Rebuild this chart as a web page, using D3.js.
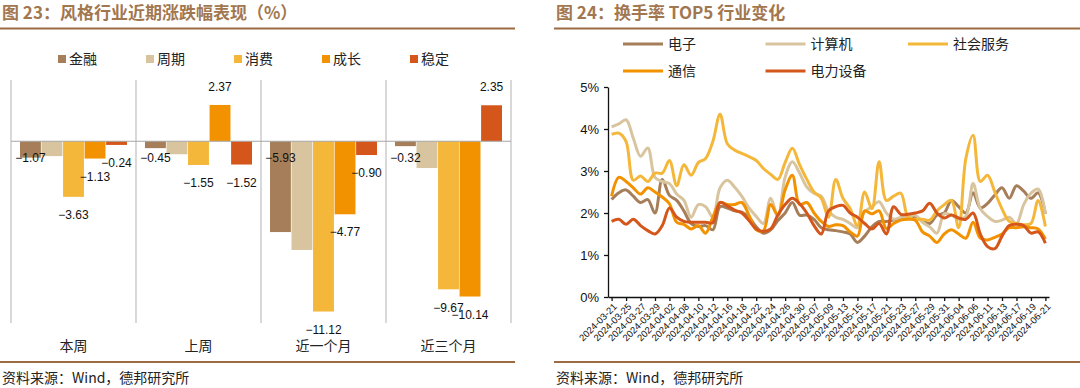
<!DOCTYPE html>
<html>
<head>
<meta charset="utf-8">
<script src="https://cdnjs.cloudflare.com/ajax/libs/d3/7.8.5/d3.min.js"></script>
<style>
  body { margin: 0; background: #fff; }
  text { font-family: "Noto Sans CJK SC", "Liberation Sans", sans-serif; }
  .num { font-family: "Liberation Sans", Arial, sans-serif; }
</style>
</head>
<body>
<div id="chart"></div>
<script>
// ---- left chart: style returns (%)
var periods = ["本周", "上周", "近一个月", "近三个月"];
var styles = ["金融", "周期", "消费", "成长", "稳定"];
var finance = [-1.07, -0.45, -5.93, -0.32];
var cyclical = [-0.97, -0.85, -7.10, -1.75];
var consumer = [-3.63, -1.55, -11.12, -9.67];
var growth = [-1.13, 2.37, -4.77, -10.14];
var stable = [-0.24, -1.52, -0.90, 2.35];
var styleValues = [finance, cyclical, consumer, growth, stable];
var showLabel = [true, false, true, true, true];

// ---- right chart: turnover top5 (%)
var dates = ["2024-03-21","2024-03-22","2024-03-25","2024-03-26","2024-03-27","2024-03-28","2024-03-29",
  "2024-04-01","2024-04-02","2024-04-03","2024-04-08","2024-04-09","2024-04-10","2024-04-11","2024-04-12",
  "2024-04-15","2024-04-16","2024-04-17","2024-04-18","2024-04-19","2024-04-22","2024-04-23","2024-04-24",
  "2024-04-25","2024-04-26","2024-04-29","2024-04-30","2024-05-06","2024-05-07","2024-05-08","2024-05-09",
  "2024-05-10","2024-05-13","2024-05-14","2024-05-15","2024-05-16","2024-05-17","2024-05-20","2024-05-21",
  "2024-05-22","2024-05-23","2024-05-24","2024-05-27","2024-05-28","2024-05-29","2024-05-30","2024-05-31",
  "2024-06-03","2024-06-04","2024-06-05","2024-06-06","2024-06-07","2024-06-11","2024-06-12","2024-06-13",
  "2024-06-14","2024-06-17","2024-06-18","2024-06-19","2024-06-20","2024-06-21"];
var industries = ["电子", "计算机", "社会服务", "通信", "电力设备"];
var electronics = [2.32,2.48,2.55,2.40,2.25,2.32,2.00,2.80,2.42,2.30,
  2.05,1.75,1.68,1.70,1.60,2.15,2.12,2.05,2.02,1.90,
  1.67,1.52,1.60,1.82,2.00,2.25,1.95,1.95,1.85,1.65,
  1.60,1.58,1.55,1.50,1.30,1.45,1.67,1.80,1.80,1.83,
  1.87,1.95,1.90,1.82,1.75,1.95,2.00,2.30,2.15,2.00,
  2.48,2.12,2.23,2.43,2.60,2.35,2.65,2.52,2.35,2.48,1.98];
var computer = [4.05,4.12,4.22,3.78,3.35,3.55,2.85,2.75,2.70,2.45,
  2.30,1.90,2.20,2.15,1.90,2.60,2.78,2.62,2.40,2.12,
  1.92,1.75,2.35,1.92,2.85,3.22,2.95,2.62,2.47,2.40,
  2.05,1.90,1.85,1.75,1.65,2.03,2.15,2.27,2.00,1.85,
  1.90,1.92,1.95,1.78,1.67,1.52,1.98,1.95,1.85,1.92,
  2.70,2.10,1.92,1.80,1.83,1.90,1.75,2.20,2.47,2.57,1.98];
var socialServices = [3.87,3.90,3.70,2.78,2.88,2.75,2.95,2.95,3.25,2.65,
  3.15,2.90,3.20,3.30,3.70,4.35,3.65,3.50,3.42,3.34,
  3.25,3.06,2.92,2.80,3.20,3.54,3.15,2.80,2.50,2.35,
  1.90,2.80,2.35,2.10,1.70,2.50,2.10,3.22,2.30,2.40,
  2.47,1.90,1.85,1.85,1.83,2.05,2.20,2.30,1.65,3.30,
  3.85,2.75,2.90,2.50,2.10,1.80,1.75,1.72,1.75,2.30,1.68];
var telecom = [2.40,2.85,2.75,2.60,2.45,2.60,2.50,2.38,2.22,1.78,
  1.73,1.62,1.70,1.52,1.90,2.25,2.20,2.20,2.25,1.95,
  1.60,1.58,2.20,1.95,2.55,2.90,2.20,2.25,2.00,1.80,
  1.68,1.72,1.70,1.55,1.45,2.05,1.98,2.05,1.63,1.75,
  1.83,1.85,1.83,1.55,1.45,1.30,1.50,1.60,1.50,1.40,
  1.78,1.40,1.36,1.42,1.50,1.65,1.65,1.67,1.65,1.62,1.38];
var powerEquip = [1.80,1.85,1.73,1.85,1.70,1.58,1.50,1.70,2.12,1.90,
  1.80,1.78,1.78,1.78,1.77,2.25,2.17,2.07,2.00,1.82,
  1.62,1.56,1.62,1.95,2.20,2.35,2.22,2.00,1.70,1.50,
  2.05,2.15,2.18,2.00,1.90,1.75,1.62,1.75,1.50,2.15,
  1.97,1.97,2.00,2.05,2.23,2.00,1.88,1.95,1.88,1.85,
  2.00,1.50,1.20,1.15,1.45,1.70,1.73,1.70,1.52,1.55,1.28];
var industryValues = [electronics, computer, socialServices, telecom, powerEquip];
var yTicks = [0, 1, 2, 3, 4, 5];

var palette = ["#A67F5A", "#D8C59F", "#F4B73A", "#F39200", "#D4561B"];
var brown = "#9C6B42";
var titleColor = "#A27750";

var svg = d3.select("#chart").append("svg")
  .attr("width", 1080).attr("height", 388);

// frames: titles, rules, sources
function frame(x0, x1, title) {
  svg.append("text").attr("x", x0 + 2).attr("y", 19)
    .attr("font-size", 17).attr("font-weight", "bold")
    .attr("fill", titleColor).text(title);
  svg.append("line").attr("x1", x0).attr("x2", x1).attr("y1", 28.5).attr("y2", 28.5)
    .attr("stroke", brown).attr("stroke-width", 2.2);
  svg.append("line").attr("x1", x0).attr("x2", x1).attr("y1", 362).attr("y2", 362)
    .attr("stroke", brown).attr("stroke-width", 2.2);
  svg.append("text").attr("x", x0 + 2).attr("y", 383)
    .attr("font-size", 14).attr("fill", "#222")
    .text("资料来源：Wind，德邦研究所");
}
frame(0, 515, "图 23：风格行业近期涨跌幅表现（%）");
frame(554, 1080, "图 24：换手率 TOP5 行业变化");

// ---- left bar chart
var x0 = d3.scaleBand().domain(periods).range([11, 511]);
var x1 = d3.scaleBand().domain(styles).range([9, 116]).paddingInner(0.03);
var y = d3.scaleLinear().domain([-12, 4]).range([325, 80]);

var left = svg.append("g");
// category separators
x0.domain().concat(["end"]).forEach(function (p, i) {
  var xx = i < periods.length ? x0(p) : x0.range()[1];
  left.append("line").attr("x1", xx).attr("x2", xx).attr("y1", 80).attr("y2", 323)
    .attr("stroke", "#BFBFBF").attr("stroke-width", 1.2);
});

styles.forEach(function (s, si) {
  left.selectAll(".bar" + si)
    .data(styleValues[si])
    .enter().append("rect")
      .attr("x", function (d, i) { return x0(periods[i]) + x1(s); })
      .attr("y", function (d) { return Math.min(y(d), y(0)); })
      .attr("width", x1.bandwidth())
      .attr("height", function (d) { return Math.abs(y(d) - y(0)); })
      .attr("fill", palette[si]);
});

left.append("line").attr("x1", 11).attr("x2", 511).attr("y1", y(0)).attr("y2", y(0))
  .attr("stroke", "#A6A6A6").attr("stroke-width", 1.2);

var fmt = d3.format(".2f");
styles.forEach(function (s, si) {
  if (!showLabel[si]) return;
  left.selectAll(".lab" + si)
    .data(styleValues[si])
    .enter().append("text")
      .attr("class", "num")
      .attr("x", function (d, i) { return x0(periods[i]) + x1(s) + x1.bandwidth() / 2; })
      .attr("y", function (d) {
        if (si === 0) return y(0) + 17;
        return d < 0 ? y(d) + 18 : y(d) - 18;
      })
      .attr("dy", "0.35em")
      .attr("text-anchor", "middle")
      .attr("font-size", 12).attr("fill", "#111")
      .text(function (d) { return fmt(d); });
});

left.selectAll(".cat")
  .data(periods)
  .enter().append("text")
    .attr("x", function (d) { return x0(d) + x0.bandwidth() / 2; })
    .attr("y", 346).attr("dy", "0.35em")
    .attr("text-anchor", "middle").attr("font-size", 14).attr("fill", "#222")
    .text(function (d) { return d; });

// legend
styles.forEach(function (s, i) {
  var lx = 58 + i * 88;
  left.append("rect").attr("x", lx).attr("y", 55).attr("width", 8).attr("height", 8)
    .attr("fill", palette[i]);
  left.append("text").attr("x", lx + 11).attr("y", 59).attr("dy", "0.35em")
    .attr("font-size", 14).attr("fill", "#222").text(s);
});

// ---- right line chart
var xr = d3.scalePoint().domain(dates).range([608, 1049]).padding(0.5);
var yr = d3.scaleLinear().domain([0, 5]).range([297, 87]);

var right = svg.append("g");

right.append("g")
  .attr("transform", "translate(608,0)")
  .call(d3.axisLeft(yr).tickValues(yTicks).tickFormat(function (d) { return d + "%"; })
    .tickSize(4).tickSizeOuter(0).tickPadding(5))
  .call(function (g) {
    g.selectAll("text").attr("class", "num").attr("font-size", 13).attr("fill", "#111");
    g.selectAll("line,path").attr("stroke", "#111").attr("stroke-width", 1.3);
  });

right.append("g")
  .attr("transform", "translate(0,297)")
  .call(d3.axisBottom(xr).tickValues(dates.filter(function (d, i) { return i % 2 === 0; }))
    .tickSize(4).tickSizeOuter(0))
  .call(function (g) {
    g.selectAll("line,path").attr("stroke", "#111").attr("stroke-width", 1.3);
    g.selectAll("text")
      .attr("class", "num")
      .attr("x", 0).attr("y", 0).attr("dy", "0.35em")
      .attr("transform", "translate(3,8) rotate(-45)")
      .style("text-anchor", "end")
      .attr("font-size", 9.5).attr("fill", "#111");
  });

var line = d3.line()
  .x(function (d, i) { return xr(dates[i]); })
  .y(function (d) { return yr(d); })
  .curve(d3.curveCatmullRom.alpha(0.5));

industryValues.forEach(function (vals, k) {
  right.append("path").datum(vals)
    .attr("d", line)
    .attr("fill", "none")
    .attr("stroke", palette[k])
    .attr("stroke-width", 3)
    .attr("stroke-linejoin", "round");
});

industries.forEach(function (name, i) {
  var col = i % 3, row = Math.floor(i / 3);
  var lx = 623 + col * 142.5, ly = 44 + row * 27;
  right.append("line").attr("x1", lx).attr("x2", lx + 40).attr("y1", ly).attr("y2", ly)
    .attr("stroke", palette[i]).attr("stroke-width", 3);
  right.append("text").attr("x", lx + 45).attr("y", ly).attr("dy", "0.35em")
    .attr("font-size", 14).attr("fill", "#222").text(name);
});
</script>
</body>
</html>
